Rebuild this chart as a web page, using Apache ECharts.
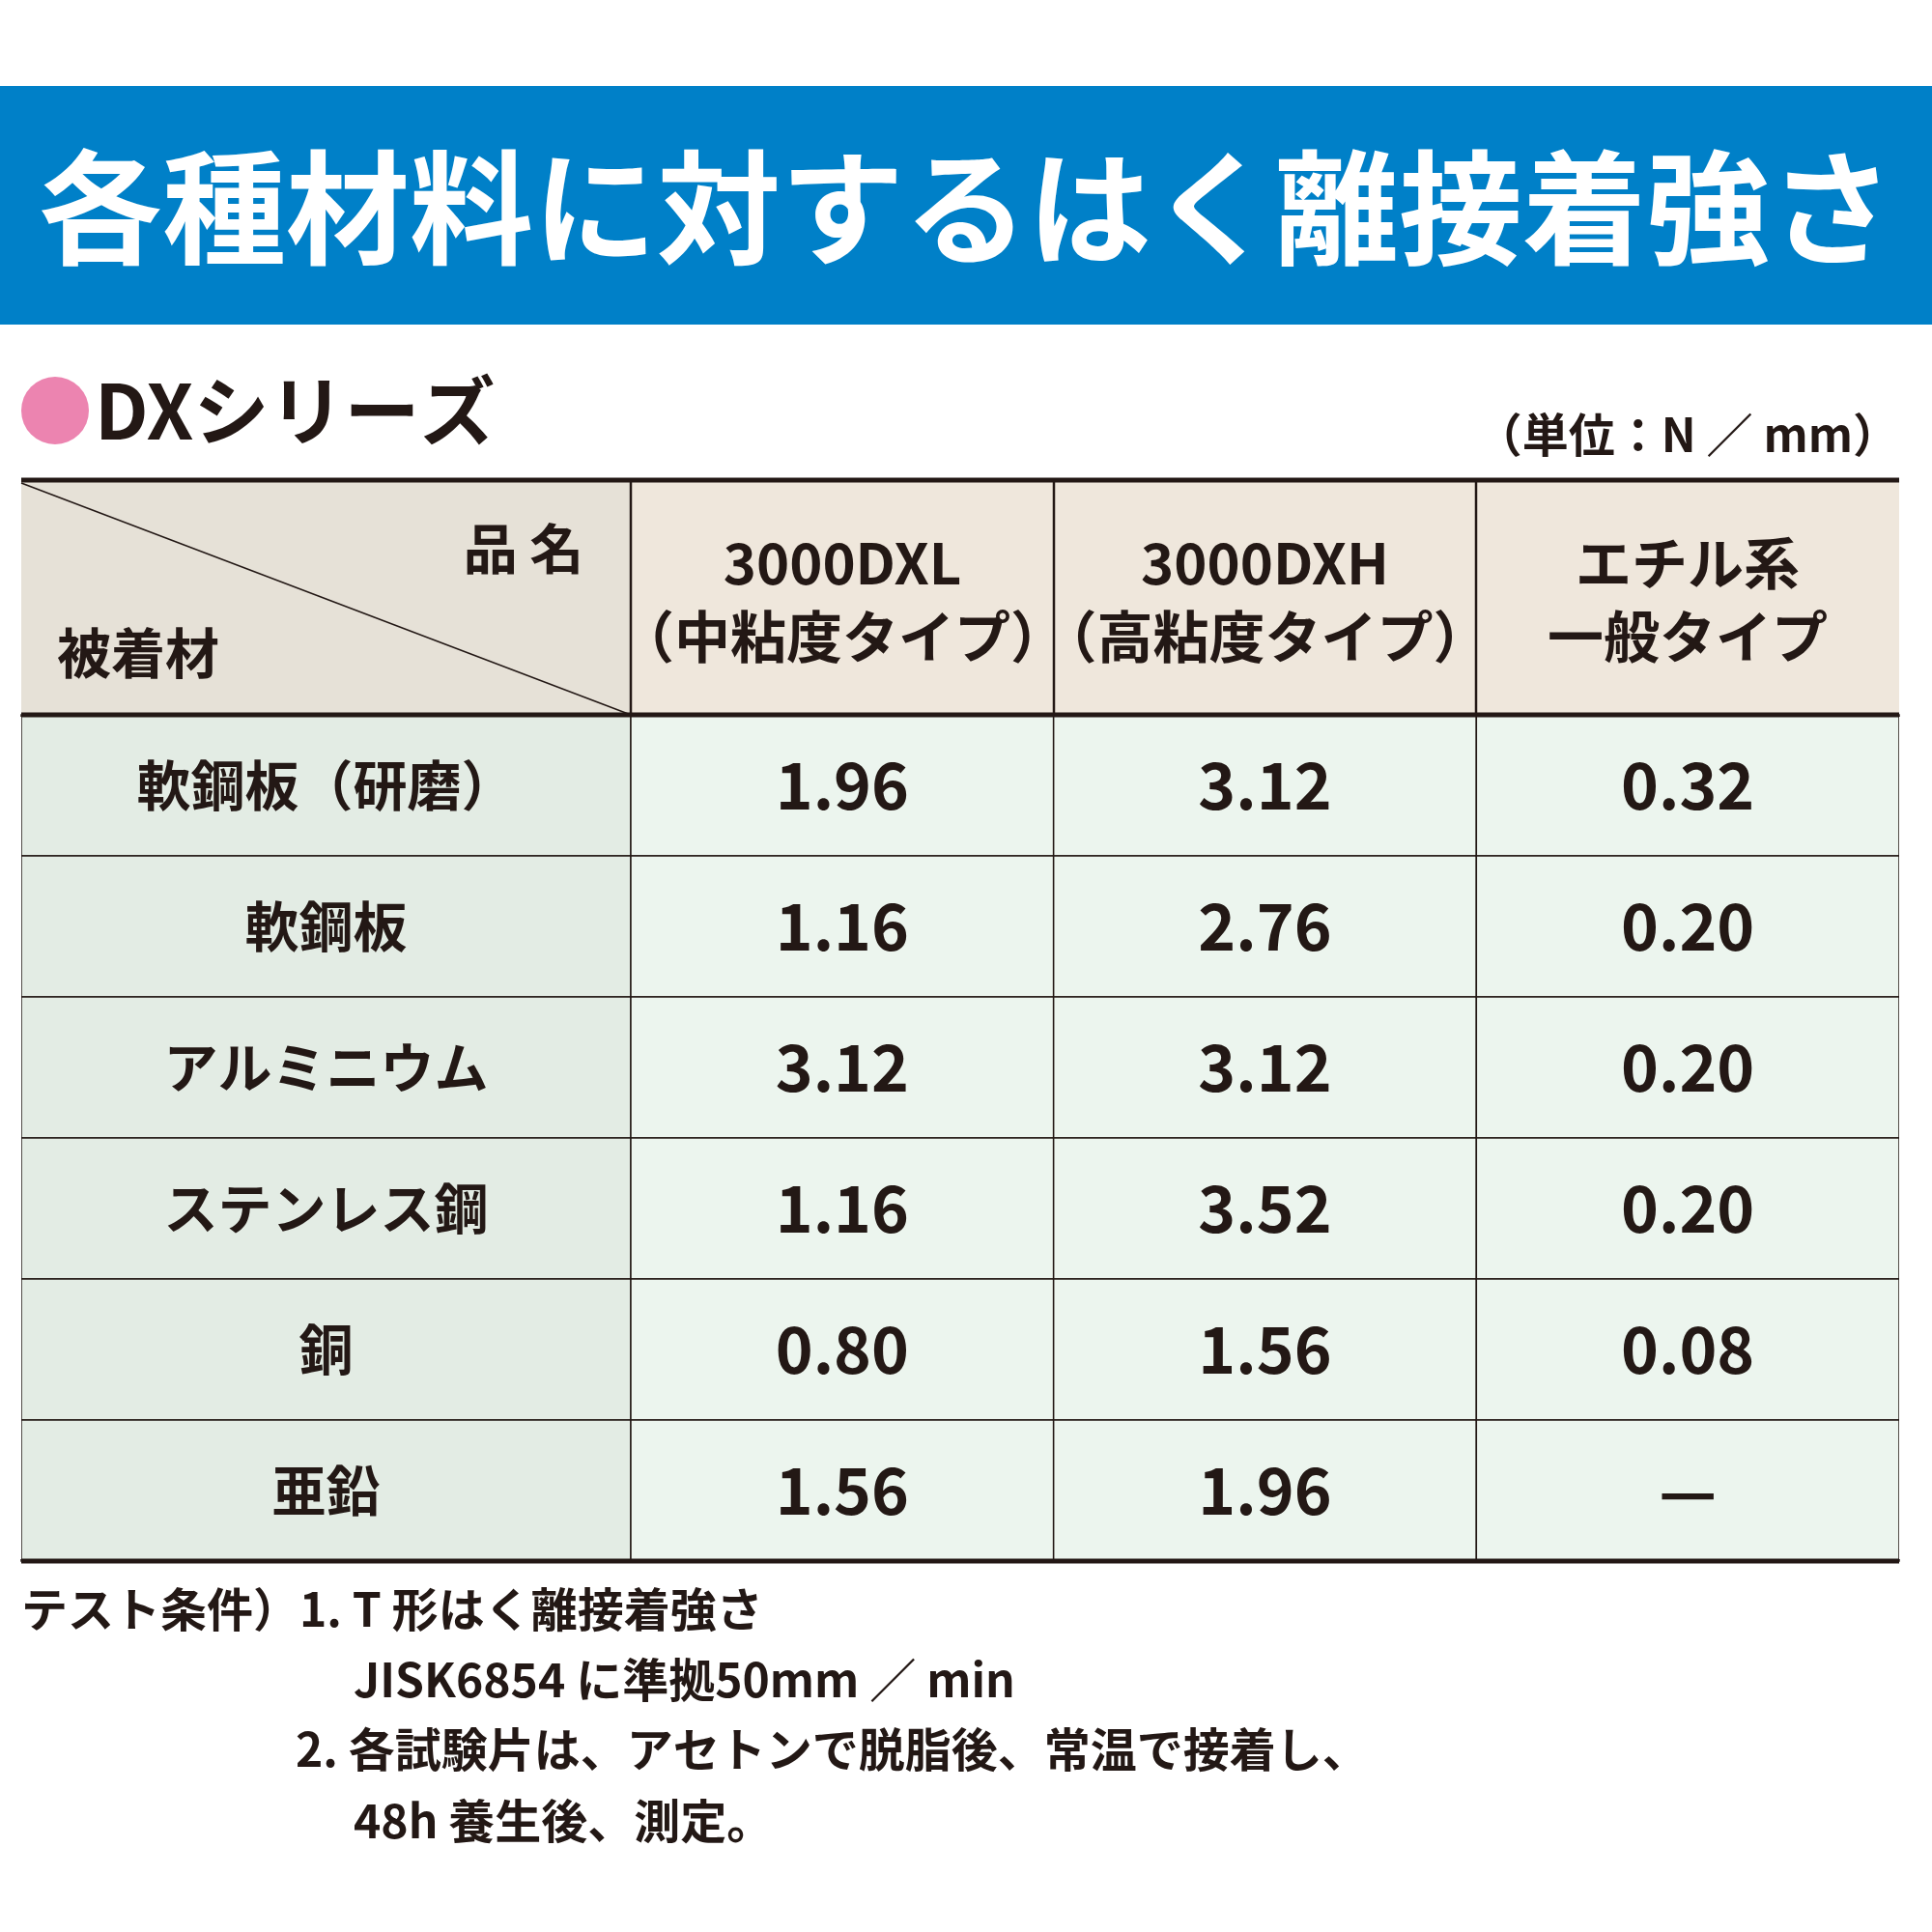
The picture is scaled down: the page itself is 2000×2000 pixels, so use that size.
<!DOCTYPE html>
<html><head><meta charset="utf-8">
<script src="https://cdn.jsdelivr.net/npm/echarts@6/dist/echarts.min.js"></script>
<style>html,body{margin:0;padding:0;background:#fff}#c{width:2000px;height:2000px}</style>
</head><body><div id="c"></div>
<script>
const materials = ['軟鋼板（研磨）','軟鋼板','アルミニウム','ステンレス鋼','銅','亜鉛'];
const products = ['3000DXL\n（中粘度タイプ）','3000DXH\n（高粘度タイプ）','エチル系\n一般タイプ'];
const valDXL = ['1.96','1.16','3.12','1.16','0.80','1.56'];
const valDXH = ['3.12','2.76','3.12','3.52','1.56','1.96'];
const valEthyl = ['0.32','0.20','0.20','0.20','0.08','—'];
const notes = ['テスト条件）1. T 形はく離接着強さ','JISK6854 に準拠50mm ／ min','2. 各試験片は、アセトンで脱脂後、常温で接着し、','48h 養生後、測定。'];

const F = '"Noto Sans CJK JP", sans-serif';
const ink = '#231815';
const chart = echarts.init(document.getElementById('c'));

const cols = [valDXL, valDXH, valEthyl];
const valueData = [];
cols.forEach((c, ci) => c.forEach((v, ri) => valueData.push([ci, ri, v])));
const matData = materials.map((m, i) => [0, i, m]);

function cell(fill, fontSize, src) {
  return function (params, api) {
    const p = api.coord([api.value(0), api.value(1)]);
    const s = api.size([1, 1]);
    return {
      type: 'group',
      children: [
        {type: 'rect', shape: {x: p[0] - s[0] / 2, y: p[1] - s[1] / 2, width: s[0], height: s[1]},
         style: {fill: fill, stroke: ink, lineWidth: 1.5}},
        {type: 'text', x: p[0], y: p[1],
         style: {text: String(src[params.dataIndex][2]), fill: ink, font: 'bold ' + fontSize + 'px ' + F, align: 'center', verticalAlign: 'middle'}}
      ]
    };
  };
}

const hdrTop = 497, hdrBot = 740;
const colX = [22, 653, 1091, 1528, 1966];
const graphics = [
  {type: 'rect', shape: {x: 0, y: 89, width: 2000, height: 247}, style: {fill: '#0080c8'}},
  {type: 'text', x: 1000, y: 215, style: {text: '各種材料に対するはく離接着強さ', fill: '#fff', font: 'bold 128px ' + F, align: 'center', verticalAlign: 'middle'}},
  {type: 'circle', shape: {cx: 57, cy: 425, r: 35}, style: {fill: '#ec84b0'}},
  {type: 'text', x: 98, y: 425, style: {text: 'DXシリーズ', fill: ink, font: 'bold 78px ' + F, verticalAlign: 'middle'}},
  {type: 'text', x: 1966, y: 450, style: {text: '（単位：N ／ mm）', fill: ink, font: 'bold 48px ' + F, align: 'right', verticalAlign: 'middle'}},
  {type: 'rect', shape: {x: 22, y: hdrTop, width: 631, height: hdrBot - hdrTop}, style: {fill: '#e6e1d7'}},
  {type: 'rect', shape: {x: 653, y: hdrTop, width: 1313, height: hdrBot - hdrTop}, style: {fill: '#efe7dc'}},
  {type: 'line', shape: {x1: 22, y1: 500, x2: 653, y2: 740}, style: {stroke: ink, lineWidth: 1.5}},
  {type: 'text', x: 542, y: 568, style: {text: '品 名', fill: ink, font: 'bold 56px ' + F, align: 'center', verticalAlign: 'middle'}},
  {type: 'text', x: 59, y: 676, style: {text: '被着材', fill: ink, font: 'bold 56px ' + F, verticalAlign: 'middle'}}
];
products.forEach((p, i) => {
  graphics.push({type: 'text', x: (colX[i + 1] + colX[i + 2]) / 2, y: 621,
    style: {text: p, fill: ink, font: 'bold 58px ' + F, align: 'center', verticalAlign: 'middle', lineHeight: 76}});
});
[1, 2, 3].forEach(i => graphics.push({type: 'line', shape: {x1: colX[i], y1: hdrTop, x2: colX[i], y2: hdrBot}, style: {stroke: ink, lineWidth: 2.5}}));
graphics.push({type: 'line', shape: {x1: 22, y1: hdrTop, x2: 1966, y2: hdrTop}, style: {stroke: ink, lineWidth: 5}});
graphics.push({type: 'line', shape: {x1: 22, y1: hdrBot, x2: 1966, y2: hdrBot}, style: {stroke: ink, lineWidth: 5}});
graphics.push({type: 'line', shape: {x1: 22, y1: 1616, x2: 1966, y2: 1616}, style: {stroke: ink, lineWidth: 5}});
graphics.push({type: 'rect', shape: {x: 0, y: 742, width: 22, height: 872}, style: {fill: '#fff'}});
graphics.push({type: 'rect', shape: {x: 1966, y: 742, width: 34, height: 872}, style: {fill: '#fff'}});
const noteX = [22, 366, 306, 366], noteY = [1666, 1739, 1811, 1885];
notes.forEach((n, i) => graphics.push({type: 'text', x: noteX[i], y: noteY[i],
  style: {text: n, fill: ink, font: 'bold 48px ' + F, verticalAlign: 'middle'}}));

chart.setOption({
  animation: false,
  grid: [
    {left: 22, top: 740, width: 631, height: 876},
    {left: 653, top: 740, width: 1313, height: 876}
  ],
  xAxis: [
    {type: 'category', gridIndex: 0, data: ['m'], show: false},
    {type: 'category', gridIndex: 1, data: products, show: false}
  ],
  yAxis: [
    {type: 'category', gridIndex: 0, data: materials, inverse: true, show: false},
    {type: 'category', gridIndex: 1, data: materials, inverse: true, show: false}
  ],
  series: [
    {type: 'custom', xAxisIndex: 0, yAxisIndex: 0, data: matData, renderItem: cell('#e3ece4', 56, matData), z: 1},
    {type: 'custom', xAxisIndex: 1, yAxisIndex: 1, data: valueData, renderItem: cell('#ecf5ee', 66, valueData), z: 1}
  ],
  graphic: {elements: graphics.map(g => Object.assign({z: 10}, g))}
});
</script></body></html>
